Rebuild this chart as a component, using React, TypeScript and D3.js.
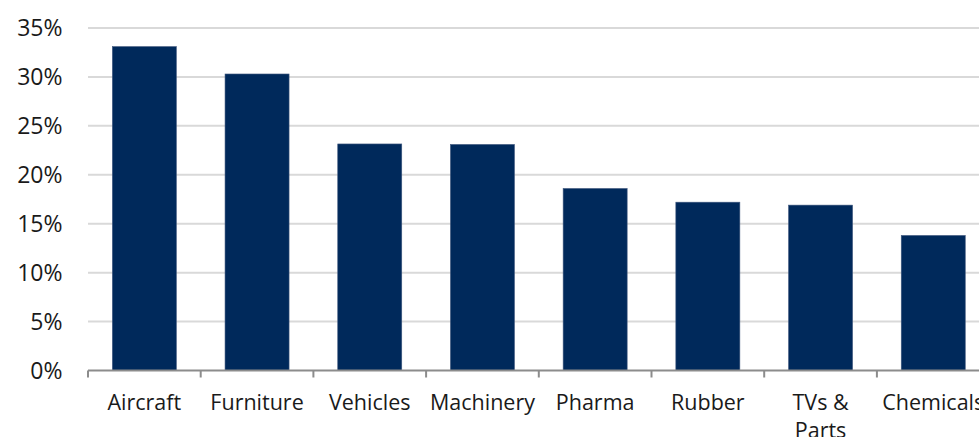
import React, { useEffect, useRef } from "react";
import * as d3 from "d3";

// Share of imports by sector
const categories = ["Aircraft", "Furniture", "Vehicles", "Machinery", "Pharma", "Rubber", "TVs & Parts", "Chemicals"];
const values = [33.1, 30.3, 23.15, 23.1, 18.6, 17.2, 16.9, 13.8];
const yTicks = [0, 5, 10, 15, 20, 25, 30, 35];

const WIDTH = 979;
const HEIGHT = 437;
const FONT = "'Open Sans', 'Noto Sans', sans-serif";

export default function App() {
  const ref = useRef<SVGSVGElement | null>(null);

  useEffect(() => {
    const svg = d3.select(ref.current);
    svg.selectAll("*").remove();

    const left = 88;
    const right = 989.6;
    const top = 28;
    const bottom = 370.5;

    const x = d3.scaleBand<string>().domain(categories).range([left, right]).paddingInner(0.432).paddingOuter(0.216);
    const y = d3.scaleLinear().domain([0, 35]).range([bottom, top]);

    // horizontal gridlines
    svg
      .append("g")
      .selectAll("line")
      .data(yTicks.filter((t) => t > 0))
      .join("line")
      .attr("x1", left)
      .attr("x2", WIDTH)
      .attr("y1", (d) => y(d))
      .attr("y2", (d) => y(d))
      .attr("stroke", "#d9d9d9")
      .attr("stroke-width", 2);

    // y tick labels
    svg
      .append("g")
      .selectAll("text")
      .data(yTicks)
      .join("text")
      .attr("x", 62.5)
      .attr("y", (d) => y(d))
      .attr("dy", "0.36em")
      .attr("text-anchor", "end")
      .attr("font-family", FONT)
      .attr("font-size", 23)
      .attr("fill", "#1a1a1a")
      .text((d) => `${d}%`);

    // bars
    svg
      .append("g")
      .selectAll("rect")
      .data(categories)
      .join("rect")
      .attr("x", (d) => x(d)!)
      .attr("width", x.bandwidth())
      .attr("y", (_, i) => y(values[i]))
      .attr("height", (_, i) => bottom - y(values[i]))
      .attr("fill", "#00295b")
      .attr("stroke", "#41597f")
      .attr("stroke-width", 0.6);

    // x axis line and tick marks at category boundaries
    const axis = svg.append("g");
    axis
      .append("line")
      .attr("x1", left)
      .attr("x2", WIDTH)
      .attr("y1", bottom)
      .attr("y2", bottom)
      .attr("stroke", "#8c8c8c")
      .attr("stroke-width", 2);
    const step = x.step();
    axis
      .selectAll("line.tick")
      .data(d3.range(categories.length + 1))
      .join("line")
      .attr("class", "tick")
      .attr("x1", (i) => left + i * step)
      .attr("x2", (i) => left + i * step)
      .attr("y1", bottom)
      .attr("y2", bottom + 7)
      .attr("stroke", "#8c8c8c")
      .attr("stroke-width", 2);

    // category labels, wrapped when wider than the band
    const labels = axis
      .selectAll("text.cat")
      .data(categories)
      .join("text")
      .attr("class", "cat")
      .attr("text-anchor", "middle")
      .attr("font-family", FONT)
      .attr("font-size", 21.5)
      .attr("fill", "#1a1a1a");

    labels.each(function (d) {
      const t = d3.select(this);
      const cx = x(d)! + x.bandwidth() / 2;
      const words = d.split(" ");
      const lines: string[] = [];
      let cur = "";
      const probe = t.append("tspan");
      for (const w of words) {
        const test = cur ? `${cur} ${w}` : w;
        probe.text(test);
        const len = (probe.node() as SVGTSpanElement).getComputedTextLength();
        if (len > 108 && cur) {
          lines.push(cur);
          cur = w;
        } else {
          cur = test;
        }
      }
      lines.push(cur);
      probe.remove();
      lines.forEach((ln, i) => {
        t.append("tspan")
          .attr("x", cx)
          .attr("y", 410 + i * 28)
          .text(ln);
      });
    });
  }, []);

  return (
    <div style={{ position: "fixed", left: 0, top: 0, width: WIDTH, height: HEIGHT, overflow: "hidden", background: "#fff" }}>
      <svg ref={ref} width={WIDTH} height={HEIGHT} style={{ display: "block" }} />
    </div>
  );
}
